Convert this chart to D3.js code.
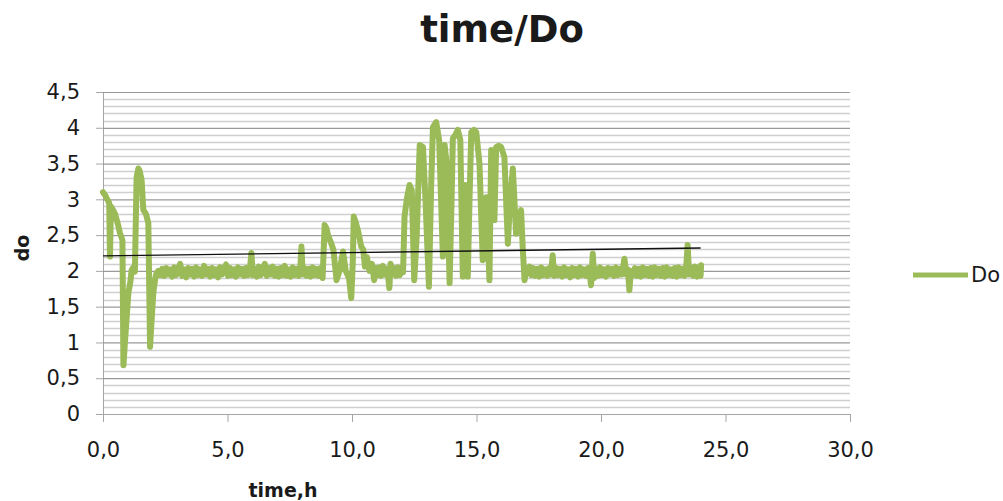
<!DOCTYPE html>
<html>
<head>
<meta charset="utf-8">
<script src="https://cdn.jsdelivr.net/npm/d3@7"></script>
<style>
  body { margin: 0; background: #fff; }
  text { font-family: "DejaVu Sans", sans-serif; fill: #1a1a1a; }
</style>
</head>
<body>
<div id="chart"></div>
<script>
// readings as [time in h, do], split by phase
const startup = [
  [0, 3.10], [0.1, 3.05], [0.2, 2.98], [0.25, 2.95], [0.28, 2.2], [0.32, 2.9], [0.4, 2.85], [0.48, 2.8], [0.6, 2.65], [0.68, 2.53],
  [0.78, 2.43], [0.82, 0.68], [0.9, 1.1], [1.02, 1.69], [1.1, 1.85], [1.15, 2.01], [1.22, 2.05], [1.28, 1.99], [1.35, 3.31], [1.42, 3.43],
  [1.47, 3.40], [1.55, 3.27], [1.62, 2.85], [1.72, 2.8], [1.82, 2.67], [1.89, 0.94], [1.95, 1.3], [2.02, 1.69], [2.1, 1.9], [2.15, 1.97]
];
const steady1 = [
  [2.22, 2.00], [2.30, 1.94], [2.38, 2.03], [2.46, 1.93], [2.54, 2.04], [2.62, 1.95], [2.70, 2.02], [2.78, 1.92], [2.86, 2.05], [2.94, 1.94],
  [3.02, 2.03], [3.10, 2.10], [3.18, 1.93], [3.26, 2.02], [3.34, 1.91], [3.42, 2.04], [3.50, 1.95], [3.58, 2.03], [3.66, 1.92], [3.74, 2.05],
  [3.82, 1.94], [3.90, 2.02], [3.98, 1.93], [4.06, 2.07], [4.14, 1.95], [4.22, 2.03], [4.30, 1.92], [4.38, 2.04], [4.46, 1.94], [4.54, 2.02],
  [4.62, 1.91], [4.70, 2.05], [4.78, 1.95], [4.86, 2.03], [4.94, 2.09], [5.02, 1.93], [5.10, 2.04], [5.18, 1.94], [5.26, 2.02], [5.34, 1.92],
  [5.42, 2.05], [5.50, 1.95], [5.58, 2.03], [5.66, 1.93], [5.74, 2.04], [5.82, 1.94], [5.90, 2.02], [5.96, 2.25], [6.02, 1.94], [6.10, 2.03],
  [6.18, 1.92], [6.26, 2.06], [6.34, 1.94], [6.42, 2.03], [6.50, 2.10], [6.58, 1.93], [6.66, 2.04], [6.74, 1.95], [6.82, 2.06], [6.90, 1.93],
  [6.98, 2.03], [7.06, 1.92], [7.14, 2.04], [7.22, 1.94], [7.30, 2.07], [7.38, 1.93], [7.46, 2.02], [7.54, 1.92], [7.62, 2.05], [7.70, 1.94],
  [7.78, 2.03], [7.86, 1.93], [7.92, 2.02], [7.97, 2.34], [8.02, 1.95], [8.10, 2.04], [8.18, 1.93], [8.26, 2.03], [8.34, 1.92], [8.42, 2.05],
  [8.50, 1.94], [8.58, 2.03], [8.66, 1.93], [8.74, 2.04], [8.82, 1.90]
];
const bumps = [
  [8.9, 2.64], [8.97, 2.6], [9.05, 2.48], [9.15, 2.4], [9.25, 2.3], [9.38, 1.87], [9.5, 2.0], [9.64, 2.27], [9.75, 2.0], [9.88, 1.9],
  [9.97, 1.62], [10.03, 2.1], [10.07, 2.76], [10.15, 2.68], [10.25, 2.55], [10.37, 2.34], [10.45, 2.3], [10.52, 2.06], [10.6, 2.19], [10.7, 2.0],
  [10.8, 2.1], [10.89, 1.87], [10.96, 2.04], [11.03, 1.94], [11.1, 2.05], [11.17, 1.93], [11.24, 2.07], [11.31, 1.95], [11.38, 2.03], [11.45, 1.92],
  [11.5, 1.76], [11.55, 2.1], [11.62, 1.95], [11.7, 2.04], [11.77, 1.93], [11.85, 2.05], [11.92, 1.94], [11.99, 2.03], [12.05, 1.98]
];
const aeration = [
  [12.11, 2.76], [12.2, 3.0], [12.31, 3.2], [12.4, 3.13], [12.5, 1.87], [12.6, 2.5], [12.72, 3.76], [12.85, 3.73], [12.95, 3.0], [13.09, 1.78],
  [13.18, 3.2], [13.25, 4.01], [13.38, 4.08], [13.5, 3.83], [13.65, 2.2], [13.72, 3.76], [13.8, 3.5], [13.92, 1.83], [14.0, 3.0], [14.05, 3.85],
  [14.15, 3.9], [14.25, 3.97], [14.35, 3.83], [14.45, 1.92], [14.55, 3.2], [14.65, 1.92], [14.72, 3.0], [14.79, 3.94], [14.9, 3.97], [14.99, 3.94],
  [15.12, 3.5], [15.25, 2.15], [15.32, 2.8], [15.39, 3.03], [15.52, 1.87], [15.59, 3.69], [15.66, 3.4], [15.72, 2.71], [15.79, 3.73], [15.9, 3.75],
  [15.99, 3.73], [16.12, 3.59], [16.26, 2.38], [16.35, 3.0], [16.46, 3.43], [16.59, 2.52], [16.68, 2.7], [16.79, 2.85], [16.86, 2.3], [16.93, 1.87],
  [17.0, 2.0], [17.13, 2.06]
];
const steady2 = [
  [17.20, 1.94], [17.28, 2.04], [17.36, 1.93], [17.44, 2.03], [17.52, 1.92], [17.60, 2.05], [17.68, 1.94], [17.76, 2.02], [17.84, 1.93], [17.92, 2.04],
  [17.99, 1.95], [18.06, 2.22], [18.12, 1.93], [18.20, 2.04], [18.28, 1.94], [18.36, 2.03], [18.44, 1.92], [18.52, 2.05], [18.60, 1.94], [18.68, 2.02],
  [18.76, 1.91], [18.84, 2.04], [18.92, 1.94], [19.00, 2.03], [19.08, 1.92], [19.16, 2.05], [19.24, 1.94], [19.32, 2.02], [19.40, 1.93], [19.48, 2.04],
  [19.56, 1.92], [19.60, 1.80], [19.67, 2.24], [19.73, 1.90], [19.80, 2.03], [19.88, 1.93], [19.96, 2.05], [20.04, 1.94], [20.12, 2.02], [20.20, 1.92],
  [20.28, 2.04], [20.36, 1.95], [20.44, 2.03], [20.52, 1.93], [20.60, 2.05], [20.68, 1.94], [20.76, 2.03], [20.84, 1.95], [20.94, 2.17], [21.02, 1.95],
  [21.08, 2.02], [21.14, 1.73], [21.20, 2.00], [21.28, 1.94], [21.36, 2.04], [21.44, 1.93], [21.52, 2.03], [21.60, 1.92], [21.68, 2.05], [21.76, 1.94],
  [21.84, 2.03], [21.92, 1.93], [22.00, 2.04], [22.08, 1.92], [22.16, 2.05], [22.24, 1.94], [22.32, 2.03], [22.40, 1.93], [22.48, 2.04], [22.56, 1.92],
  [22.64, 2.05], [22.72, 1.94], [22.80, 2.02], [22.88, 1.93], [22.96, 2.04], [23.04, 1.92], [23.12, 2.05], [23.20, 1.94], [23.28, 2.03], [23.36, 1.93],
  [23.43, 2.10], [23.48, 2.36], [23.54, 1.95], [23.62, 2.05], [23.70, 1.93], [23.78, 2.06], [23.86, 1.92], [23.94, 2.05], [24.00, 1.93], [24.02, 2.08]
];

// linear trend line end points
const trendTime = [0, 24];
const trendValues = [2.21, 2.32];

const xTicks = [0, 5, 10, 15, 20, 25, 30];
const xTickLabels = ["0,0", "5,0", "10,0", "15,0", "20,0", "25,0", "30,0"];
const yTicks = [0, 0.5, 1, 1.5, 2, 2.5, 3, 3.5, 4, 4.5];
const yTickLabels = ["0", "0,5", "1", "1,5", "2", "2,5", "3", "3,5", "4", "4,5"];

const W = 1003, H = 501;
const plot = {left: 103, right: 850, top: 92, bottom: 414};
const green = "#9bbb59";

const svg = d3.select("#chart")
    .append("svg")
    .attr("width", W)
    .attr("height", H);

const x = d3.scaleLinear().domain([0, 30]).range([plot.left, plot.right]);
const y = d3.scaleLinear().domain([0, 4.5]).range([plot.bottom, plot.top]);

// minor grid every 0.1
const minor = d3.range(1, 45).map(i => i / 10).filter(v => Math.round(v * 10) % 5 !== 0);
svg.append("g")
    .selectAll("line")
    .data(minor)
    .enter()
    .append("line")
    .attr("x1", plot.left).attr("x2", plot.right)
    .attr("y1", d => Math.round(y(d)) + 0.5).attr("y2", d => Math.round(y(d)) + 0.5)
    .attr("stroke", "#cfcfcf")
    .attr("stroke-width", 1.3);

// major grid + y axis
svg.append("g")
    .attr("transform", `translate(${plot.left},0)`)
    .call(d3.axisLeft(y).tickValues(yTicks).tickSize(7).tickFormat((d, i) => yTickLabels[i]))
    .call(g => g.select(".domain").attr("stroke", "#a6a6a6"))
    .call(g => g.selectAll(".tick line").attr("stroke", "#a6a6a6"))
    .call(g => g.selectAll(".tick").append("line")
        .attr("x1", 0).attr("x2", plot.right - plot.left)
        .attr("stroke", d => d === 0 ? "none" : "#9a9a9a").attr("stroke-width", 1.2))
    .call(g => g.selectAll(".tick text")
        .attr("x", -23)
        .style("font-size", "21px")
        .style("font-family", "DejaVu Sans, sans-serif")
        .attr("fill", "#1a1a1a"));

// x axis
svg.append("g")
    .attr("transform", `translate(0,${plot.bottom})`)
    .call(d3.axisBottom(x).tickValues(xTicks).tickSize(8).tickFormat((d, i) => xTickLabels[i]))
    .call(g => g.select(".domain").attr("stroke", "#a6a6a6"))
    .call(g => g.selectAll(".tick line").attr("stroke", "#a6a6a6"))
    .call(g => g.selectAll(".tick text")
        .attr("y", 28)
        .style("font-size", "21px")
        .style("font-family", "DejaVu Sans, sans-serif")
        .attr("fill", "#1a1a1a"));

// data line
const series = startup.concat(steady1, bumps, aeration, steady2);
svg.append("path")
    .datum(series)
    .attr("fill", "none")
    .attr("stroke", green)
    .attr("stroke-width", 6)
    .attr("stroke-linejoin", "round")
    .attr("stroke-linecap", "round")
    .attr("d", d3.line().x(d => x(d[0])).y(d => y(d[1])));

// trend line
svg.append("line")
    .attr("x1", x(trendTime[0])).attr("y1", y(trendValues[0]))
    .attr("x2", x(trendTime[1])).attr("y2", y(trendValues[1]))
    .attr("stroke", "#111")
    .attr("stroke-width", 1.4);

// title
svg.append("text")
    .attr("x", 502)
    .attr("y", 42)
    .attr("text-anchor", "middle")
    .style("font-size", "37px")
    .style("font-weight", "bold")
    .text("time/Do");

// axis titles
svg.append("text")
    .attr("x", 283)
    .attr("y", 497)
    .attr("text-anchor", "middle")
    .style("font-size", "19px")
    .style("font-weight", "bold")
    .text("time,h");

svg.append("text")
    .attr("transform", "translate(29,248) rotate(-90)")
    .attr("text-anchor", "middle")
    .style("font-size", "19px")
    .style("font-weight", "bold")
    .text("do");

// legend
const legend = svg.append("g")
    .attr("transform", "translate(913,275)");
legend.append("line")
    .attr("x1", 0).attr("x2", 55)
    .attr("stroke", green)
    .attr("stroke-width", 5);
legend.append("text")
    .attr("x", 58)
    .attr("y", 0)
    .attr("dominant-baseline", "central")
    .style("font-size", "21px")
    .text("Do");
</script>
</body>
</html>
